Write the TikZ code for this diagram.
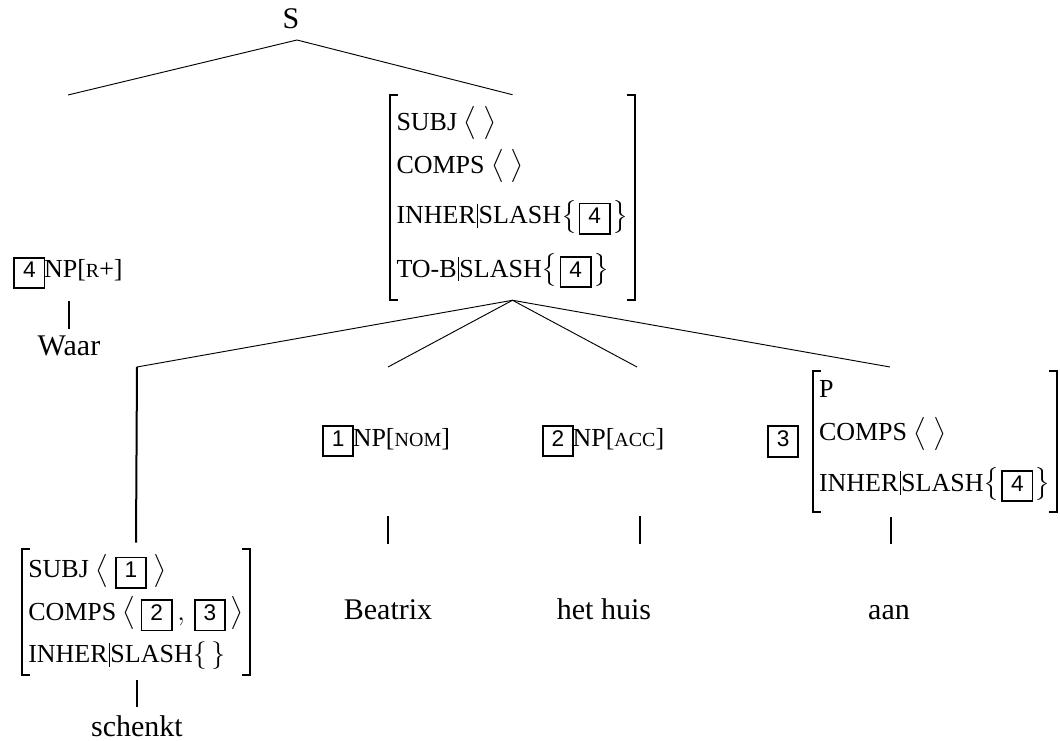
\documentclass[tikz,border=0pt]{standalone}
\usepackage{amsmath}
\usepackage{fontspec}
\setmainfont{Liberation Serif}
\setsansfont{Liberation Sans}
\usetikzlibrary{positioning}

\newcommand{\tagbox}[1]{{\setlength{\fboxrule}{1.3pt}\setlength{\fboxsep}{2pt}%
  \fbox{\rule[-5pt]{0pt}{17.5pt}\kern4pt\sffamily\fontsize{17}{17}\selectfont #1\kern4pt}}}
\newcommand{\feat}[1]{{\fontsize{15}{15}\selectfont #1}}
\newcommand{\pbar}{\kern0.8pt\rule[-3pt]{0.5pt}{18pt}\kern0.8pt}
\newcommand{\slashset}[1]{$\left\{\mkern1mu#1\mkern1mu\right\}$}
\newcommand{\avmbrackets}[1]{%
  \draw[bracket] ([xshift=6pt]#1.north west) -| (#1.south west) -- ++(6pt,0);
  \draw[bracket] ([xshift=-6pt]#1.north east) -| (#1.south east) -- ++(-6pt,0);}

\tikzset{
every node/.style={font=\fontsize{19.5}{32}\selectfont}, % feature text
word/.style={anchor=base, font=\fontsize{22.5}{24}\selectfont, text height=15pt, text depth=0pt, inner sep=2pt},
avm/.style={align=left, inner xsep=4.5pt, inner ysep=0pt},
bracket/.style={line width=1.5pt},
branch/.style={line width=0.7pt},
stem/.style={line width=1.5pt},
}

\begin{document}
\begin{tikzpicture}[x=0.75pt, y=-0.75pt]
    \useasboundingbox (0,0) rectangle (1060,741);
    % top of the tree
    \node[word] (s) at (291,29) {S};
    \coordinate (sfoot) at (297,40);
    \coordinate (waarup) at (68,95);
    \node[avm, minimum height=153.75pt] (vp) at (512.5,197.5)
      {SUBJ $\bigl\langle\ \bigr\rangle$\\
       COMPS $\bigl\langle\ \bigr\rangle$\\[6pt]
       INHER\pbar SLASH\slashset{\tagbox{4}}\\[8pt]
       TO-B\pbar SLASH\slashset{\tagbox{4}}};
    \avmbrackets{vp}
    \draw[branch] (waarup) -- (sfoot) -- (vp.north);

    % filler
    \node (np4) at (68,273) {\tagbox{4}\kern-1pt NP[\feat{R}+]};
    \node[word] (waar) at (69,356) {Waar};
    \coordinate (waartop) at (69,301);
    \draw[stem, shorten >=3.2pt] (waartop) -- (waartop |- waar.north);

    % daughters of the slashed node
    \coordinate (h1) at (137,367);
    \coordinate (h2) at (388,367);
    \coordinate (h3) at (637,367);
    \coordinate (h4) at (890,367);
    \draw[branch] (h1) -- (vp.south) -- (h4);
    \draw[branch] (h2) -- (vp.south) -- (h3);

    % verb
    \node[avm, minimum height=94.5pt] (v) at (136,612)
      {SUBJ $\bigl\langle\ \tagbox{1}\ \bigr\rangle$\\
       COMPS $\bigl\langle\,\tagbox{2}\,,\,\tagbox{3}\,\bigr\rangle$\\
       INHER\pbar SLASH$\{\,\}$};
    \avmbrackets{v}
    \draw[stem] (h1) -- ([yshift=4.5pt]v.north);
    \node[word] (schenkt) at (137,736) {schenkt};
    \coordinate (schenkttop) at (137,680);
    \draw[stem, shorten >=4.7pt] (schenkttop) -- (schenkttop |- schenkt.north);

    % complements
    \node (np1) at (386,441) {\tagbox{1}\kern-1pt NP[\feat{NOM}]};
    \node (np2) at (603,441) {\tagbox{2}\kern-1pt NP[\feat{ACC}]};
    \node[avm, minimum height=105.75pt] (pp) at (935,441.5)
      {P\\
       COMPS $\bigl\langle\ \bigr\rangle$\\[6pt]
       INHER\pbar SLASH\slashset{\tagbox{4}}};
    \avmbrackets{pp}
    \node[left=10pt of pp, inner sep=0pt] (ptag) {\tagbox{3}};

    \node[word] (beatrix) at (388,619) {Beatrix};
    \node[word] (hethuis) at (604,619) {het huis};
    \node[word] (aan) at (889,619) {aan};
    \coordinate (beatrixtop) at (388,516);
    \coordinate (huistop) at (640,516);
    \coordinate (aantop) at (891,517);
    \draw[stem, shorten >=39.2pt] (beatrixtop) -- (beatrixtop |- beatrix.north);
    \draw[stem, shorten >=39.2pt] (huistop) -- (huistop |- hethuis.north);
    \draw[stem, shorten >=39.2pt] (aantop) -- (aantop |- aan.north);
\end{tikzpicture}
\end{document}
